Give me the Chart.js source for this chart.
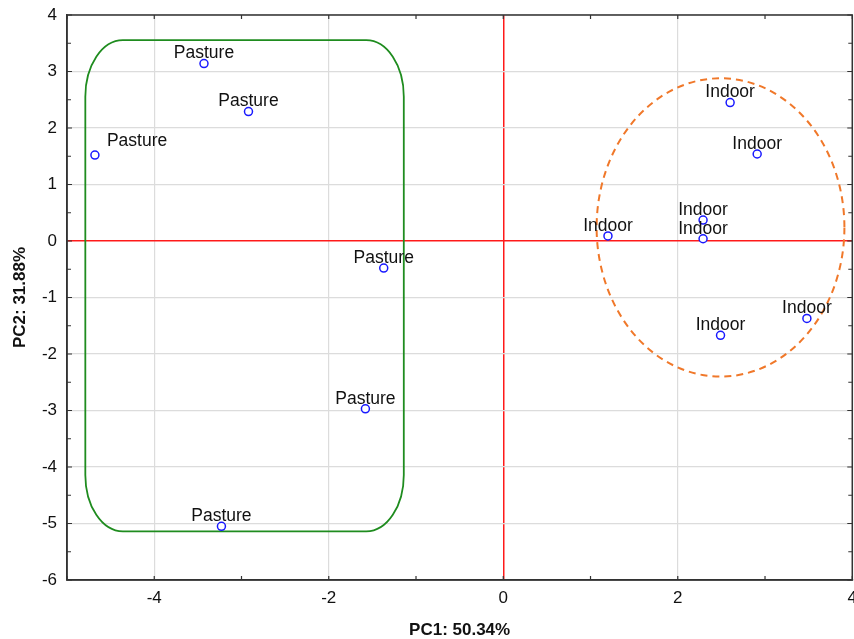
<!DOCTYPE html>
<html>
<head>
<meta charset="utf-8">
<script src="https://cdn.jsdelivr.net/npm/chart.js@4.4.1/dist/chart.umd.min.js"></script>
<style>
  html, body { margin: 0; padding: 0; background: #fff; overflow: hidden; }
  #wrap { position: relative; width: 865px; height: 639px; }
</style>
</head>
<body>
<div id="wrap"><canvas id="pcaChart"></canvas></div>
<script>
// PCA scores
const pastureX = [-3.43, -2.92, -4.68, -1.37, -1.58, -3.23];
const pastureY = [3.14, 2.29, 1.52, -0.48, -2.97, -5.05];
const indoorX = [2.60, 2.91, 1.20, 2.29, 2.29, 2.49, 3.48];
const indoorY = [2.45, 1.54, 0.09, 0.37, 0.04, -1.67, -1.37];

// group outlines in data units
const pastureBox = [-4.79, -1.14, -5.14, 3.555];   // xMin, xMax, yMin, yMax
const pastureCorner = [0.43, 1.0];                 // corner radius x, y
const indoorEllipse = [2.49, 0.24, 1.42, 2.64];    // cx, cy, rx, ry

// axis ranges
const xRange = [-5, 4];
const yRange = [-6, 4];

function toPoints(xs, ys, label) {
    return xs.map((x, i) => ({ x: x, y: ys[i], label: label }));
}

// outlines behind the points
const outlinePlugin = {
    id: 'outlines',
    beforeDatasetsDraw(chart) {
        const ctx = chart.ctx;
        const xs = chart.scales.x, ys = chart.scales.y;
        const area = chart.chartArea;
        ctx.save();
        ctx.beginPath();
        ctx.rect(area.left, area.top, area.right - area.left, area.bottom - area.top);
        ctx.clip();

        // rounded box around pasture samples
        const l = xs.getPixelForValue(pastureBox[0]);
        const r = xs.getPixelForValue(pastureBox[1]);
        const b = ys.getPixelForValue(pastureBox[2]);
        const t = ys.getPixelForValue(pastureBox[3]);
        const rx = xs.getPixelForValue(pastureBox[0] + pastureCorner[0]) - l;
        const ry = b - ys.getPixelForValue(pastureBox[2] + pastureCorner[1]);
        ctx.beginPath();
        ctx.moveTo(l + rx, t);
        ctx.lineTo(r - rx, t);
        ctx.ellipse(r - rx, t + ry, rx, ry, 0, -Math.PI / 2, 0);
        ctx.lineTo(r, b - ry);
        ctx.ellipse(r - rx, b - ry, rx, ry, 0, 0, Math.PI / 2);
        ctx.lineTo(l + rx, b);
        ctx.ellipse(l + rx, b - ry, rx, ry, 0, Math.PI / 2, Math.PI);
        ctx.lineTo(l, t + ry);
        ctx.ellipse(l + rx, t + ry, rx, ry, 0, Math.PI, Math.PI * 1.5);
        ctx.closePath();
        ctx.strokeStyle = '#1f8c1f';
        ctx.lineWidth = 1.8;
        ctx.stroke();

        // dashed ellipse around indoor samples
        const cx = xs.getPixelForValue(indoorEllipse[0]);
        const cy = ys.getPixelForValue(indoorEllipse[1]);
        const erx = xs.getPixelForValue(indoorEllipse[0] + indoorEllipse[2]) - cx;
        const ery = cy - ys.getPixelForValue(indoorEllipse[1] + indoorEllipse[3]);
        ctx.beginPath();
        ctx.ellipse(cx, cy, erx, ery, 0, 0, Math.PI * 2);
        ctx.setLineDash([7, 5]);
        ctx.strokeStyle = '#f0782a';
        ctx.lineWidth = 2;
        ctx.stroke();
        ctx.restore();
    }
};

// point labels, frame and inner tick marks
const labelPlugin = {
    id: 'pointLabels',
    afterDatasetsDraw(chart) {
        const ctx = chart.ctx;
        const area = chart.chartArea;
        ctx.save();
        ctx.font = '17.5px "Liberation Sans", Arial, sans-serif';
        ctx.fillStyle = '#111';
        ctx.textBaseline = 'middle';
        chart.data.datasets.forEach((ds, di) => {
            const meta = chart.getDatasetMeta(di);
            meta.data.forEach((el, i) => {
                const text = ds.data[i].label;
                const w = ctx.measureText(text).width;
                if (el.x - w / 2 < area.left) {
                    // no room on the left: put label to the right
                    ctx.textAlign = 'left';
                    ctx.fillText(text, el.x + 12, el.y - 14);
                } else {
                    ctx.textAlign = 'center';
                    ctx.fillText(text, el.x, el.y - 10);
                }
            });
        });
        ctx.restore();
    },
    afterDraw(chart) {
        const ctx = chart.ctx;
        const a = chart.chartArea;
        const xs = chart.scales.x, ys = chart.scales.y;
        ctx.save();
        ctx.strokeStyle = '#333';
        ctx.lineWidth = 1.5;
        ctx.strokeRect(a.left, a.top, a.right - a.left, a.bottom - a.top);
        ctx.lineWidth = 1.2;
        ctx.beginPath();
        ys.ticks.forEach(t => {
            const py = ys.getPixelForValue(t.value);
            const len = Number.isInteger(t.value) ? 5 : 4;
            ctx.moveTo(a.left, py); ctx.lineTo(a.left + len, py);
            ctx.moveTo(a.right, py); ctx.lineTo(a.right - len, py);
        });
        xs.ticks.forEach(t => {
            const px = xs.getPixelForValue(t.value);
            ctx.moveTo(px, a.bottom); ctx.lineTo(px, a.bottom - 4);
            ctx.moveTo(px, a.top); ctx.lineTo(px, a.top + 4);
        });
        ctx.stroke();
        ctx.restore();
    }
};

const tickFont = { family: '"Liberation Sans", Arial, sans-serif', size: 17 };
const titleFont = { family: '"Liberation Sans", Arial, sans-serif', size: 17, weight: 'bold', lineHeight: 1 };

const ctx = document.getElementById('pcaChart').getContext('2d');
new Chart(ctx, {
    type: 'scatter',
    data: {
        datasets: [
            {
                label: 'Pasture',
                data: toPoints(pastureX, pastureY, 'Pasture'),
                pointRadius: 4,
                pointHoverRadius: 4,
                borderWidth: 1.5,
                borderColor: '#1a1aff',
                backgroundColor: '#ffffff'
            },
            {
                label: 'Indoor',
                data: toPoints(indoorX, indoorY, 'Indoor'),
                pointRadius: 4,
                pointHoverRadius: 4,
                borderWidth: 1.5,
                borderColor: '#1a1aff',
                backgroundColor: '#ffffff'
            }
        ]
    },
    options: {
        responsive: true,
        maintainAspectRatio: false,
        animation: false,
        layout: { padding: { top: 15, right: 0, left: 0, bottom: 0 } },
        plugins: {
            legend: { display: false },
            tooltip: { enabled: false }
        },
        scales: {
            x: {
                type: 'linear',
                min: xRange[0],
                max: xRange[1],
                afterFit: scale => { scale.height = 59; },
                ticks: {
                    stepSize: 1,
                    padding: 8,
                    color: '#111',
                    font: tickFont,
                    maxRotation: 0,
                    autoSkip: false,
                    callback: v => (v % 2 === 0 ? String(v) : '')
                },
                grid: {
                    drawTicks: false,
                    lineWidth: c => (c.tick && c.tick.value === 0 ? 1.5 : 1.2),
                    color: c => {
                        if (!c.tick) return 'transparent';
                        if (c.tick.value === 0) return '#ff1a1a';
                        return c.tick.value % 2 === 0 ? '#dcdcdc' : 'transparent';
                    }
                },
                border: { display: true, color: '#333', width: 1.5 },
                title: {
                    display: true,
                    text: 'PC1: 50.34%',
                    color: '#111',
                    font: titleFont,
                    padding: { top: 0, bottom: 0 }
                }
            },
            y: {
                type: 'linear',
                min: yRange[0],
                max: yRange[1],
                afterFit: scale => {
                    scale.width = 67;
                    scale.paddingTop = 0;
                    scale.paddingBottom = 0;
                },
                ticks: {
                    stepSize: 0.5,
                    padding: 10,
                    color: '#111',
                    font: tickFont,
                    autoSkip: false,
                    callback: v => (Number.isInteger(v) ? String(v) : '')
                },
                grid: {
                    drawTicks: false,
                    lineWidth: c => (c.tick && c.tick.value === 0 ? 1.5 : 1.2),
                    color: c => {
                        if (!c.tick) return 'transparent';
                        if (c.tick.value === 0) return '#ff1a1a';
                        return Number.isInteger(c.tick.value) ? '#dcdcdc' : 'transparent';
                    }
                },
                border: { display: true, color: '#333', width: 1.5 },
                title: {
                    display: true,
                    text: 'PC2: 31.88%',
                    color: '#111',
                    font: titleFont,
                    padding: { top: 12, bottom: 0 }
                }
            }
        }
    },
    plugins: [outlinePlugin, labelPlugin]
});
</script>
</body>
</html>
